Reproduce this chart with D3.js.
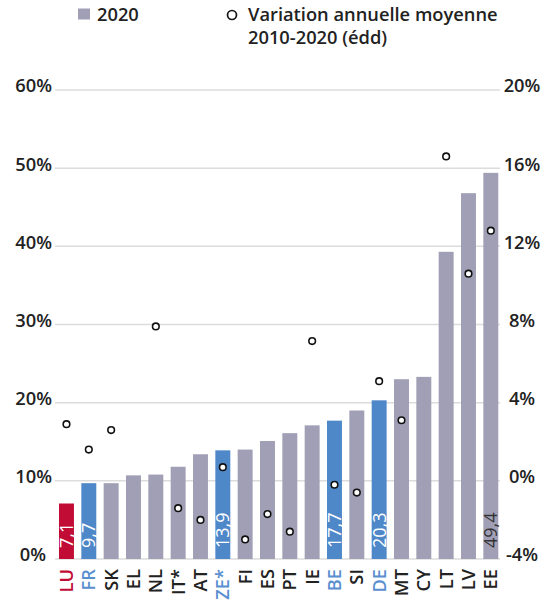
<!DOCTYPE html>
<html><head><meta charset="utf-8">
<script src="https://cdn.jsdelivr.net/npm/d3@7"></script>
<style>body{margin:0;background:#fff;} text{font-family:"Open Sans","Noto Sans",sans-serif;}</style>
</head><body>
<svg id="c" width="545" height="601"></svg>
<script>
const categories = ["LU","FR","SK","EL","NL","IT*","AT","ZE*","FI","ES","PT","IE","BE","SI","DE","MT","CY","LT","LV","EE"];
const values2020 = [7.1,9.7,9.7,10.7,10.8,11.8,13.4,13.9,14.0,15.1,16.1,17.1,17.7,19.0,20.3,23.0,23.3,39.3,46.8,49.4];
const variation = [2.9,1.6,2.6,null,7.9,-1.4,-2.0,0.7,-3.0,-1.7,-2.6,7.15,-0.2,-0.6,5.1,3.1,null,16.6,10.6,12.8];
const leftTicks = [0,10,20,30,40,50,60];
const rightTicks = [-4,0,4,8,12,16,20];
const highlight = {"LU":"red","FR":"blue","ZE*":"blue","BE":"blue","DE":"blue"};
const barLabels = {"LU":"7,1","FR":"9,7","ZE*":"13,9","BE":"17,7","DE":"20,3","EE":"49,4"};

const colors = {grey:"#a09fb5", blue:"#4f88c8", red:"#c10d36", text:"#222"};
const svg = d3.select("#c");
const plotTop = 90, plotBottom = 559, plotLeft = 55, plotRight = 500;
const fs = 18.3;

const x = d3.scaleBand().domain(categories).range([55.2, 502.1]).paddingInner(0.33).paddingOuter(0.17);
const yL = d3.scaleLinear().domain([0,60]).range([plotBottom, plotTop]);
const yR = d3.scaleLinear().domain([-4,20]).range([plotBottom, plotTop]);

// gridlines
svg.append("g").selectAll("line").data(leftTicks).join("line")
  .attr("x1", plotLeft).attr("x2", plotRight)
  .attr("y1", d=>yL(d)).attr("y2", d=>yL(d))
  .attr("stroke", "#dcdcdc").attr("stroke-width", 1.5);

// left axis
const axL = svg.append("g").attr("transform", `translate(${plotLeft-3},0)`)
  .call(d3.axisLeft(yL).tickValues(leftTicks).tickSize(0).tickPadding(0).tickFormat(d=>d+"%"));
axL.select(".domain").remove();
axL.selectAll("text").attr("font-size", fs).attr("font-weight", 600).attr("fill", colors.text)
  .attr("font-family", '"Open Sans",sans-serif').attr("dy", "0.1em")
  .attr("dx", d => d===0 ? -6 : 0);

// right axis
const axR = svg.append("g").attr("transform", `translate(${plotRight+22},0)`)
  .call(d3.axisRight(yR).tickValues(rightTicks).tickSize(0).tickPadding(0).tickFormat(d=>d+"%"));
axR.select(".domain").remove();
axR.selectAll("text").attr("font-size", fs).attr("font-weight", 600).attr("fill", colors.text)
  .attr("font-family", '"Open Sans",sans-serif').attr("text-anchor","middle").attr("dy","0.1em");

const col = c => highlight[c]==="red" ? colors.red : highlight[c]==="blue" ? colors.blue : colors.grey;

// bars
svg.append("g").selectAll("rect").data(categories).join("rect")
  .attr("x", c=>x(c)).attr("width", x.bandwidth())
  .attr("y", (c,i)=>yL(values2020[i])).attr("height", (c,i)=>yL(0)-yL(values2020[i]))
  .attr("fill", col);

// bar value labels
svg.append("g").selectAll("text").data(categories.filter(c=>barLabels[c])).join("text")
  .attr("transform", c=>`translate(${x(c)+x.bandwidth()/2+6.5},${plotBottom-11}) rotate(-90)`)
  .attr("font-size", 18).attr("font-weight", 500)
  .attr("fill", c => c==="EE" ? "#333" : "#fff")
  .text(c=>barLabels[c]);

// x labels
svg.append("g").selectAll("text").data(categories).join("text")
  .attr("transform", c=>`translate(${x(c)+x.bandwidth()/2+6.5},${plotBottom+10}) rotate(-90)`)
  .attr("text-anchor","end")
  .attr("font-size", fs).attr("font-weight", 600)
  .attr("fill", c => highlight[c]==="red" ? colors.red : highlight[c]==="blue" ? "#5a8fd0" : colors.text)
  .text(c=>c);

// dots
svg.append("g").selectAll("circle").data(categories.map((c,i)=>({c, v:variation[i]})).filter(d=>d.v!==null)).join("circle")
  .attr("cx", d=>x(d.c)+x.bandwidth()/2).attr("cy", d=>yR(d.v)).attr("r", 3.3)
  .attr("fill", "#fff").attr("stroke", "#111").attr("stroke-width", 1.6);

// legend
const lg = svg.append("g");
lg.append("rect").attr("x",78).attr("y",8.5).attr("width",12).attr("height",11).attr("fill",colors.grey);
lg.append("text").attr("x",97).attr("y",20.5).attr("font-size",fs).attr("font-weight",600).attr("fill",colors.text).text("2020");
lg.append("circle").attr("cx",232).attr("cy",15).attr("r",4.5).attr("fill","#fff").attr("stroke","#111").attr("stroke-width",1.7);
lg.append("text").attr("x",248).attr("y",20.5).attr("font-size",fs).attr("font-weight",600).attr("fill",colors.text).text("Variation annuelle moyenne");
lg.append("text").attr("x",248).attr("y",44).attr("font-size",fs).attr("font-weight",600).attr("fill",colors.text).text("2010-2020 (édd)");
</script>
</body></html>
